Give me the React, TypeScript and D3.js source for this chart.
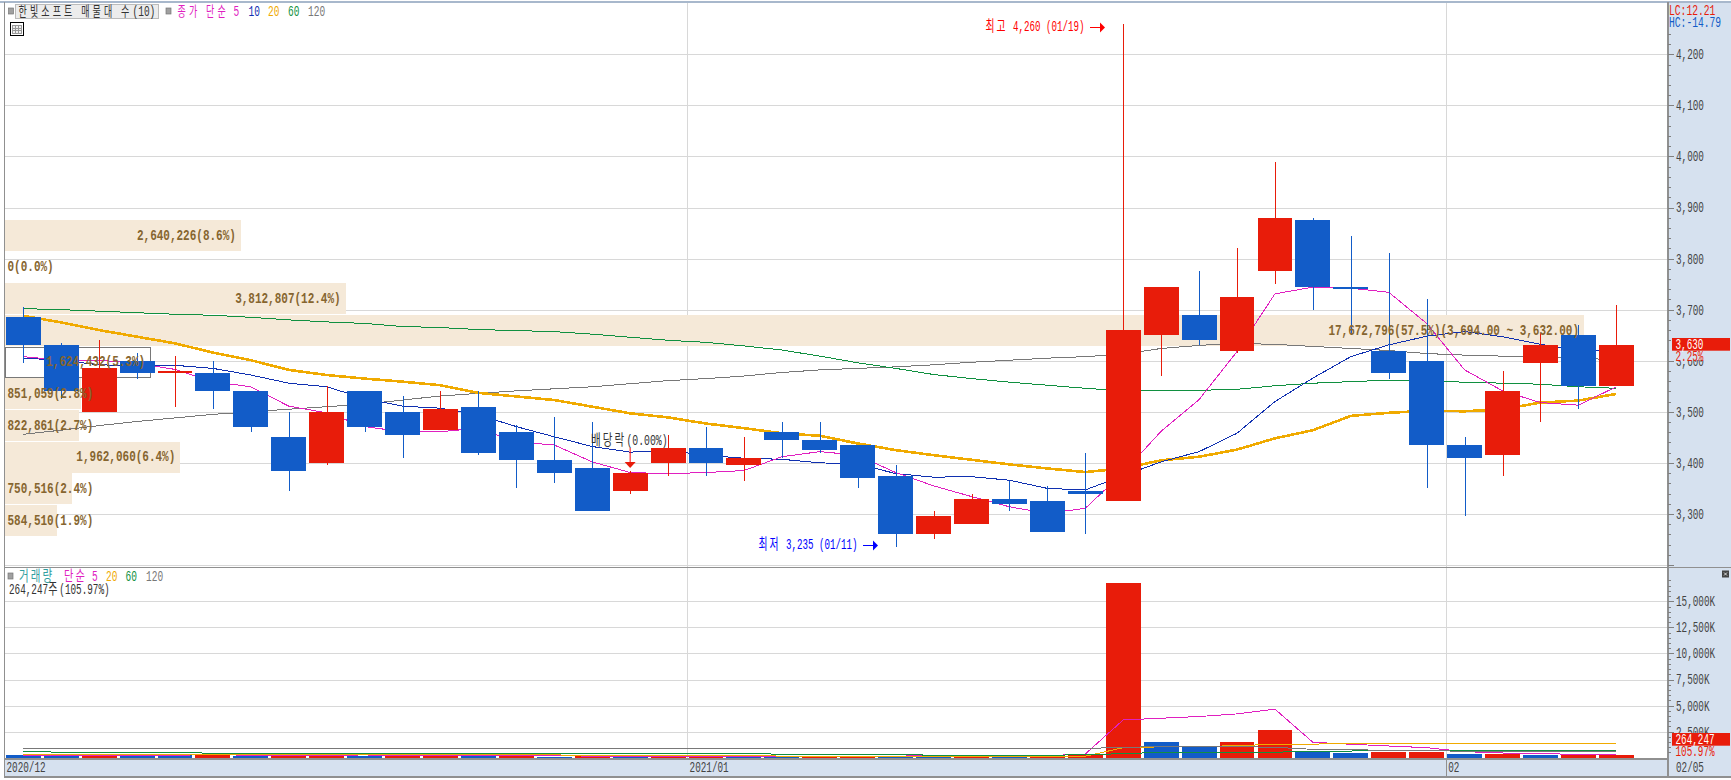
import * as d3 from "d3";
import { useEffect, useRef } from "react";

const dates = [
  "12/04", "12/07", "12/08", "12/09", "12/10", "12/11", "12/14", "12/15", "12/16", "12/17", "12/18",
  "12/21", "12/22", "12/23", "12/24", "12/28", "12/29", "12/30",
  "01/04", "01/05", "01/06", "01/07", "01/08", "01/11", "01/12", "01/13", "01/14", "01/15", "01/18",
  "01/19", "01/20", "01/21", "01/22", "01/25", "01/26", "01/27", "01/28", "01/29",
  "02/01", "02/02", "02/03", "02/04", "02/05",
];
const opens = [
  3685, 3630, 3500, 3600, 3575, 3575, 3540, 3450, 3400, 3540, 3500, 3465, 3510, 3460, 3405, 3390, 3345, 3400,
  3430, 3395, 3460, 3445, 3435, 3375, 3260, 3280, 3330, 3325, 3345, 3325, 3650, 3690, 3620, 3775, 3875, 3745,
  3620, 3600, 3435, 3415, 3595, 3650, 3550,
];
const closes = [
  3630, 3540, 3585, 3575, 3580, 3540, 3470, 3385, 3500, 3470, 3455, 3505, 3420, 3405, 3380, 3305, 3380, 3430,
  3400, 3410, 3445, 3425, 3370, 3260, 3295, 3330, 3320, 3265, 3340, 3660, 3745, 3640, 3725, 3880, 3745, 3740,
  3575, 3435, 3410, 3540, 3630, 3550, 3630,
];
const highs = [
  3705, 3635, 3640, 3615, 3610, 3600, 3540, 3500, 3550, 3540, 3530, 3540, 3540, 3475, 3490, 3480, 3385, 3455,
  3470, 3450, 3480, 3480, 3435, 3395, 3305, 3340, 3365, 3355, 3420, 4260, 3745, 3775, 3820, 3990, 3880, 3845,
  3810, 3720, 3450, 3580, 3655, 3670, 3710,
];
const lows = [
  3595, 3525, 3500, 3565, 3510, 3505, 3460, 3345, 3395, 3460, 3410, 3465, 3415, 3350, 3360, 3305, 3340, 3375,
  3375, 3365, 3410, 3420, 3350, 3235, 3250, 3280, 3305, 3265, 3260, 3325, 3570, 3630, 3615, 3750, 3700, 3650,
  3565, 3350, 3295, 3375, 3480, 3505, 3550,
];
const ma5 = [
  3608, 3601, 3601, 3595, 3583, 3559, 3549, 3511, 3498, 3471, 3461, 3461, 3468, 3441, 3435, 3402, 3381, 3379,
  3381, 3385, 3412, 3422, 3415, 3381, 3355, 3334, 3314, 3301, 3311, 3381, 3462, 3524, 3618, 3731, 3744, 3742,
  3734, 3673, 3582, 3541, 3518, 3513, 3549,
];
const ma10 = [
  3605, 3601, 3592, 3590, 3591, 3585, 3572, 3556, 3549, 3526, 3511, 3507, 3494, 3471, 3451, 3432, 3421, 3424,
  3415, 3409, 3407, 3400, 3398, 3379, 3372, 3373, 3366, 3350, 3347, 3375, 3402, 3422, 3458, 3520, 3566, 3608,
  3631, 3648, 3657, 3647, 3632, 3621, 3618,
];
const ma20 = [
  3688, 3675, 3660, 3647, 3634, 3616, 3601, 3582, 3572, 3565, 3559, 3552, 3537, 3530, 3523, 3510, 3497, 3489,
  3477, 3468, 3458, 3453, 3438, 3425, 3415, 3406, 3397, 3389, 3382, 3389, 3405, 3412, 3426, 3448, 3464, 3492,
  3498, 3502, 3501, 3505, 3518, 3522, 3535,
];
const ma60 = [
  3702, 3700, 3697, 3694, 3691, 3689, 3685, 3680, 3676, 3673, 3667, 3665, 3661, 3659, 3657, 3652, 3646, 3640,
  3636, 3629, 3621, 3609, 3596, 3585, 3573, 3565, 3558, 3552, 3546, 3541, 3541, 3542, 3544, 3551, 3556, 3559,
  3562, 3560, 3558, 3556, 3554, 3549, 3546,
];
const ma120 = [
  3456, 3464, 3473, 3481, 3488, 3495, 3500, 3505, 3510, 3515, 3523, 3531, 3536, 3541, 3545, 3549, 3555, 3561,
  3565, 3570, 3577, 3582, 3585, 3588, 3592, 3597, 3601, 3605, 3608, 3613, 3624, 3630, 3634, 3632, 3628, 3624,
  3620, 3614, 3611, 3609, 3608, 3606, 3601,
];

// volume in thousand shares
const volumes = [
  290, 220, 290, 280, 220, 340, 170, 190, 400, 190, 200, 220, 190, 130, 100, 120, 110, 130, 140, 120, 110, 170,
  190, 190, 170, 180, 170, 180, 360, 16800, 1510, 1030, 1510, 2660, 580, 450, 580, 580, 355, 385, 255, 320, 264,
];
const volumeUp = [
  0, 0, 1, 0, 0, 1, 0, 1, 1, 0, 1, 1, 0, 1, 0, 1, 0, 1, 1, 0, 0, 1, 1, 0, 0, 1, 0, 1, 1, 1, 0, 0, 1, 1, 0, 0, 1,
  1, 0, 1, 0, 1, 1,
];
const volMa5 = [
  250, 250, 250, 250, 250, 270, 250, 230, 250, 260, 240, 230, 230, 200, 170, 160, 150, 140, 130, 130, 125, 130,
  150, 160, 170, 170, 180, 190, 356, 3625, 3785, 3950, 4200, 4654, 1480, 1290, 1125, 960, 580, 450, 385, 325, 325,
];
const volMa20 = [
  330, 330, 330, 330, 330, 320, 320, 320, 320, 320, 290, 280, 260, 260, 260, 250, 220, 220, 200, 180, 160, 150,
  150, 150, 140, 140, 135, 135, 140, 960, 1040, 1080, 1150, 1290, 1310, 1330, 1340, 1355, 1370, 1380, 1385, 1385,
  1385,
];
const volMa60 = [
  615, 519, 519, 519, 519, 423, 423, 423, 423, 423, 423, 423, 423, 423, 423, 423, 423, 423, 423, 423, 327, 327,
  327, 327, 230, 230, 230, 230, 290, 385, 519, 519, 519, 519, 640, 640, 710, 710, 710, 710, 710, 710, 710,
];
const volMa120 = [
  880, 880, 880, 880, 880, 880, 880, 880, 880, 880, 880, 880, 880, 880, 880, 880, 880, 880, 880, 880, 880, 880,
  880, 880, 880, 880, 880, 880, 880, 1000, 1058, 1058, 1058, 1000, 800, 760, 710, 680, 620, 600, 590, 580, 580,
];

// price-volume bins, top to bottom
const binTops = [3880, 3818, 3756, 3694, 3632, 3570, 3508, 3446, 3384, 3322];
const binVolumes = [2640226, 0, 3812807, 17672796, 1624432, 851059, 822861, 1962060, 750516, 584510];
const binLabels = [
  "2,640,226(8.6%)", "0(0.0%)", "3,812,807(12.4%)", "17,672,796(57.5%)(3,694.00 ~ 3,632.00)",
  "1,624,432(5.3%)", "851,059(2.8%)", "822,861(2.7%)", "1,962,060(6.4%)", "750,516(2.4%)", "584,510(1.9%)",
];
const binAlignEnd = [1, 0, 1, 1, 1, 0, 0, 1, 0, 0];

const priceTicks = [3200, 3300, 3400, 3500, 3600, 3700, 3800, 3900, 4000, 4100, 4200];
const priceMinor = d3.range(3200, 4241, 20);
const volumeTicks = [2500, 5000, 7500, 10000, 12500, 15000];
const volumeMinor = d3.range(0, 17001, 500);

const RED = "#e81c0a";
const BLUE = "#125cc8";
const MAGENTA = "#e020c0";
const NAVY = "#1030b0";
const ORANGE = "#f0aa00";
const GREEN = "#109040";
const GRAY = "#787878";
const GRID = "#d8d8d8";
const AXIS_BG = "#d6e1ef";
const BAND = "#f5e9d8";
const BROWN = "#86652f";
const SIZE = 14;
const ADVANCE = SIZE * 0.6; // Liberation Mono

const App = () => {
  const ref = useRef<SVGSVGElement>(null);

  useEffect(() => {
    const svg = d3.select(ref.current);
    svg.selectAll("*").remove();

    const left = 5;
    const right = 1667;

    const x = d3.scaleBand<string>().domain(dates).range([4.3, 1635.3]).paddingInner(0.08).paddingOuter(0.04);
    const cx = (i: number) => x(dates[i])! + x.bandwidth() / 2;
    const yP = d3.scaleLinear().domain([3200, 4200]).range([565, 54.3]);
    const yV = d3.scaleLinear().domain([0, 15000]).range([757.7, 601.3]);
    const binX = d3.scaleLinear().domain([0, 17672796]).range([left, 1584]);

    // the chart font is a narrow fixed pitch one, so squeeze the mono font to w per cell
    const text = (
      g: any,
      str: string,
      tx: number,
      ty: number,
      color: string,
      w = 6,
      opts: { bold?: boolean; end?: boolean; hangul?: number } = {},
    ) => {
      const t = g
        .append("text")
        .attr("transform", `translate(${tx},${ty + 4.5}) scale(${w / ADVANCE},1)`)
        .attr("fill", color)
        .attr("font-family", "'Liberation Mono','Noto Sans CJK KR',monospace")
        .attr("font-size", SIZE)
        .attr("font-weight", opts.bold ? "bold" : "normal")
        .attr("text-anchor", opts.end ? "end" : "start")
        .style("white-space", "pre");
      const hs = opts.hangul ?? 15;
      const runs = str.match(/[\u3131-\uD7A3]+|[^\u3131-\uD7A3]+/g) ?? [];
      runs.forEach((run) => {
        const s = t.append("tspan").text(run);
        if (run.charCodeAt(0) > 255) {
          s.attr("font-family", "'Noto Sans CJK KR'")
            .attr("font-size", hs)
            .attr("letter-spacing", 2 * ADVANCE - 0.92 * hs);
        }
      });
      return t;
    };

    // backgrounds
    svg.append("rect").attr("width", 1731).attr("height", 780).attr("fill", "#fff");
    svg.append("rect").attr("x", right).attr("y", 2).attr("width", 64).attr("height", 775).attr("fill", AXIS_BG);
    svg.append("rect").attr("x", left).attr("y", 759).attr("width", right - left).attr("height", 18).attr("fill", AXIS_BG);

    const crisp = svg.append("g").attr("shape-rendering", "crispEdges");

    // grid
    const hLines = [...priceTicks.map((d) => yP(d)), ...volumeTicks.map((d) => yV(d))];
    crisp
      .selectAll("line.h")
      .data(hLines)
      .join("line")
      .attr("x1", left)
      .attr("x2", right)
      .attr("y1", (d) => Math.round(d) + 0.5)
      .attr("y2", (d) => Math.round(d) + 0.5)
      .attr("stroke", GRID);
    crisp
      .selectAll("line.v")
      .data(["01/04", "02/01"])
      .join("line")
      .attr("x1", (d) => x(d)! - 1)
      .attr("x2", (d) => x(d)! - 1)
      .attr("y1", 3)
      .attr("y2", 759)
      .attr("stroke", GRID);

    // price-volume bands
    binVolumes.forEach((v, i) => {
      if (v === 0) return;
      const by = yP(binTops[i]) + 2.3;
      const r = crisp
        .append("rect")
        .attr("x", left)
        .attr("y", Math.round(by))
        .attr("width", binX(v) - left)
        .attr("height", 30.7);
      if (i === 4) r.attr("fill", "#fff").attr("stroke", GRAY);
      else r.attr("fill", BAND);
    });

    // moving averages
    const priceLine = d3
      .line<number>()
      .x((_, i) => cx(i))
      .y((d) => yP(d));
    const series: [number[], string, number][] = [
      [ma120, GRAY, 1],
      [ma60, GREEN, 1],
      [ma20, ORANGE, 2.6],
      [ma10, NAVY, 1],
      [ma5, MAGENTA, 1],
    ];
    series.forEach(([vals, color, sw]) => {
      crisp.append("path").attr("d", priceLine(vals)).attr("fill", "none").attr("stroke", color).attr("stroke-width", sw);
    });

    // candles
    dates.forEach((d, i) => {
      const up = closes[i] >= opens[i];
      const color = up ? RED : BLUE;
      crisp
        .append("line")
        .attr("x1", Math.round(cx(i)) + 0.5)
        .attr("x2", Math.round(cx(i)) + 0.5)
        .attr("y1", yP(highs[i]))
        .attr("y2", yP(lows[i]))
        .attr("stroke", color);
      crisp
        .append("rect")
        .attr("x", x(d)!)
        .attr("y", yP(Math.max(opens[i], closes[i])))
        .attr("width", x.bandwidth())
        .attr("height", Math.abs(yP(opens[i]) - yP(closes[i])))
        .attr("fill", color);
    });

    // volume bars
    dates.forEach((d, i) => {
      crisp
        .append("rect")
        .attr("x", x(d)!)
        .attr("y", yV(volumes[i]))
        .attr("width", x.bandwidth())
        .attr("height", yV(0) - yV(volumes[i]))
        .attr("fill", volumeUp[i] ? RED : BLUE);
    });
    const volLine = d3
      .line<number>()
      .x((_, i) => cx(i))
      .y((d) => yV(d));
    const volSeries: [number[], string, number][] = [
      [volMa5, MAGENTA, 1],
      [volMa20, ORANGE, 1],
      [volMa60, GREEN, 1],
      [volMa120, GRAY, 1],
    ];
    volSeries.forEach(([vals, color, sw]) => {
      crisp.append("path").attr("d", volLine(vals)).attr("fill", "none").attr("stroke", color).attr("stroke-width", sw);
    });

    // bin labels go over the candles
    binLabels.forEach((s, i) => {
      const cy = yP(binTops[i]) + 2.3 + 15.3;
      if (binAlignEnd[i]) {
        text(svg, s, binX(binVolumes[i]) - 5, cy, BROWN, 6.6, { bold: true, end: true });
      } else {
        text(svg, s, 7.5, cy, BROWN, 6.6, { bold: true });
      }
    });

    // frames
    const frame = svg.append("g").attr("shape-rendering", "crispEdges");
    frame.append("line").attr("x1", 0).attr("x2", 1731).attr("y1", 1.5).attr("y2", 1.5).attr("stroke", "#a8b8cc").attr("stroke-width", 2);
    frame.append("line").attr("x1", left).attr("x2", right).attr("y1", 567.5).attr("y2", 567.5).attr("stroke", "#909090").attr("stroke-width", 1.5);
    frame.append("line").attr("x1", left).attr("x2", right).attr("y1", 759).attr("y2", 759).attr("stroke", "#909090").attr("stroke-width", 1.5);
    frame.append("line").attr("x1", 4.5).attr("x2", 4.5).attr("y1", 2).attr("y2", 777).attr("stroke", "#909090").attr("stroke-width", 1.5);
    frame.append("line").attr("x1", 4).attr("x2", 1731).attr("y1", 777).attr("y2", 777).attr("stroke", "#909090").attr("stroke-width", 1.5);
    frame.append("line").attr("x1", 1667.5).attr("x2", 1667.5).attr("y1", 2).attr("y2", 777).attr("stroke", "#909090").attr("stroke-width", 2);
    frame.append("line").attr("x1", 1446).attr("x2", 1446).attr("y1", 759).attr("y2", 777).attr("stroke", "#909090");
    frame.append("line").attr("x1", 1667).attr("x2", 1731).attr("y1", 567.5).attr("y2", 567.5).attr("stroke", "#909090");

    // axes
    const styleAxis = (g: any) => {
      g.select(".domain").remove();
      g.selectAll(".tick line").attr("stroke", "#808080").attr("shape-rendering", "crispEdges");
      g.selectAll(".tick text")
        .attr("x", 0)
        .attr("transform", `translate(8,0) scale(${5.6 / ADVANCE},1)`)
        .attr("fill", "#444")
        .attr("font-family", "'Liberation Mono',monospace")
        .attr("font-size", SIZE);
    };
    const minorAxis = (scale: any, vals: number[]) => {
      const g = svg
        .append("g")
        .attr("transform", `translate(${right + 1},0)`)
        .call(d3.axisRight(scale).tickValues(vals).tickSize(3).tickFormat(() => "") as any)
        .call(styleAxis);
      g.selectAll(".tick text").remove();
    };
    minorAxis(yP, priceMinor);
    minorAxis(yV, volumeMinor.filter((d) => d > 0));
    svg
      .append("g")
      .attr("transform", `translate(${right + 1},0)`)
      .call(
        d3
          .axisRight(yP)
          .tickValues(priceTicks)
          .tickSize(6)
          .tickFormat((d: any) => (d === 3200 ? "" : d3.format(",")(d))) as any,
      )
      .call(styleAxis);
    svg
      .append("g")
      .attr("transform", `translate(${right + 1},0)`)
      .call(d3.axisRight(yV).tickValues(volumeTicks).tickSize(6).tickFormat((d: any) => d3.format(",")(d) + "K") as any)
      .call(styleAxis);

    // time labels
    text(svg, "2020/12", 6.5, 767, "#444", 5.6);
    text(svg, "2021/01", x("01/04")! + 1, 767, "#444", 5.6);
    text(svg, "02", x("02/01")! + 1, 767, "#444", 5.6);
    text(svg, "02/05", 1676, 767, "#444", 5.6);

    // last value boxes
    svg.append("rect").attr("x", 1669).attr("y", 350).attr("width", 62).attr("height", 10).attr("fill", AXIS_BG);
    svg.append("rect").attr("x", 1672).attr("y", 338).attr("width", 58).attr("height", 12.7).attr("fill", RED);
    text(svg, "3,630", 1675.5, 344, "#fff", 5.6);
    text(svg, "2.25%", 1675.5, 356.5, RED, 5.6);
    svg.append("rect").attr("x", 1672).attr("y", 733).attr("width", 58).attr("height", 12.7).attr("fill", RED);
    text(svg, "264,247", 1675.5, 739, "#fff", 5.6);
    text(svg, "105.97%", 1675.5, 751, RED, 5.6);

    text(svg, "LC:12.21", 1669, 10, RED, 5.8);
    text(svg, "HC:-14.79", 1669, 22, BLUE, 5.8);

    // pane legends
    const square = (sx: number, sy: number) =>
      svg.append("rect").attr("x", sx).attr("y", sy).attr("width", 5).attr("height", 6).attr("fill", "#a0a0a0").attr("stroke", "#777").attr("stroke-width", 0.7);
    square(8.5, 8);
    svg.append("rect").attr("x", 15.5).attr("y", 4.5).attr("width", 143).attr("height", 14).attr("fill", "#ececec").attr("stroke", "#bbb");
    text(svg, "한빛소프트 매물대 수(10)", 18.5, 11, "#333", 5.7, { hangul: 13.3 });
    square(166, 8);
    text(svg, "종가 단순", 177.5, 11, MAGENTA, 5.7, { hangul: 13.3 });
    text(svg, "5", 233.5, 11, MAGENTA, 5.7);
    text(svg, "10", 248.5, 11, NAVY, 5.7);
    text(svg, "20", 268, 11, ORANGE, 5.7);
    text(svg, "60", 288, 11, GREEN, 5.7);
    text(svg, "120", 308, 11, GRAY, 5.7);

    // table icon
    const icon = svg.append("g").attr("shape-rendering", "crispEdges");
    icon.append("rect").attr("x", 10.5).attr("y", 22.5).attr("width", 13).attr("height", 13).attr("fill", "#fff").attr("stroke", "#000").attr("stroke-width", 1.2);
    icon.append("rect").attr("x", 12.5).attr("y", 25.5).attr("width", 9).attr("height", 8).attr("fill", "#eee").attr("stroke", "#999");
    [15.5, 18.5].forEach((p) => icon.append("line").attr("x1", p).attr("x2", p).attr("y1", 25).attr("y2", 33).attr("stroke", "#999"));
    [28.5, 30.5].forEach((p) => icon.append("line").attr("x1", 12).attr("x2", 21).attr("y1", p).attr("y2", p).attr("stroke", "#999"));

    square(8, 573);
    text(svg, "거래량", 19, 576, "#30a0a0", 5.9);
    text(svg, "단순", 64, 576, MAGENTA, 5.7);
    text(svg, "5", 92, 576, MAGENTA, 5.7);
    text(svg, "20", 106, 576, ORANGE, 5.7);
    text(svg, "60", 125.5, 576, GREEN, 5.7);
    text(svg, "120", 146, 576, GRAY, 5.7);
    text(svg, "264,247주(105.97%)", 9, 589, "#333", 5.6);

    // annotations
    const arrow = (x1: number, x2: number, ay: number, color: string) => {
      svg.append("line").attr("x1", x1).attr("x2", x2 - 4).attr("y1", ay).attr("y2", ay).attr("stroke", color);
      svg.append("path").attr("d", `M${x2 - 5},${ay - 5}L${x2},${ay}L${x2 - 5},${ay + 5}Z`).attr("fill", color);
    };
    text(svg, "최고 4,260 (01/19)", 985.5, 26.5, "#ff0000", 5.5);
    arrow(1090, 1105, 27.5, "#ff0000");
    text(svg, "최저 3,235 (01/11)", 758.5, 544, "#0000ff", 5.5);
    arrow(863, 878, 545.5, "#0000ff");
    text(svg, "배당락(0.00%)", 591, 440, "#333", 5.9);
    svg.append("line").attr("x1", cx(16)).attr("x2", cx(16)).attr("y1", 448).attr("y2", 463).attr("stroke", "#ff0000");
    svg.append("path").attr("d", `M${cx(16) - 5.5},462L${cx(16) + 5.5},462L${cx(16)},468Z`).attr("fill", RED);

    // small pane resize button
    svg.append("rect").attr("x", 1722).attr("y", 570.5).attr("width", 7).attr("height", 7).attr("fill", "#444");
    svg.append("path").attr("d", "M1724,572.5L1727,575.5M1727,572.5L1724,575.5").attr("stroke", "#fff").attr("stroke-width", 0.8);
  }, []);

  return <svg ref={ref} width={1731} height={780} style={{ position: "absolute", left: 0, top: 0, display: "block" }}></svg>;
};

export default App;
